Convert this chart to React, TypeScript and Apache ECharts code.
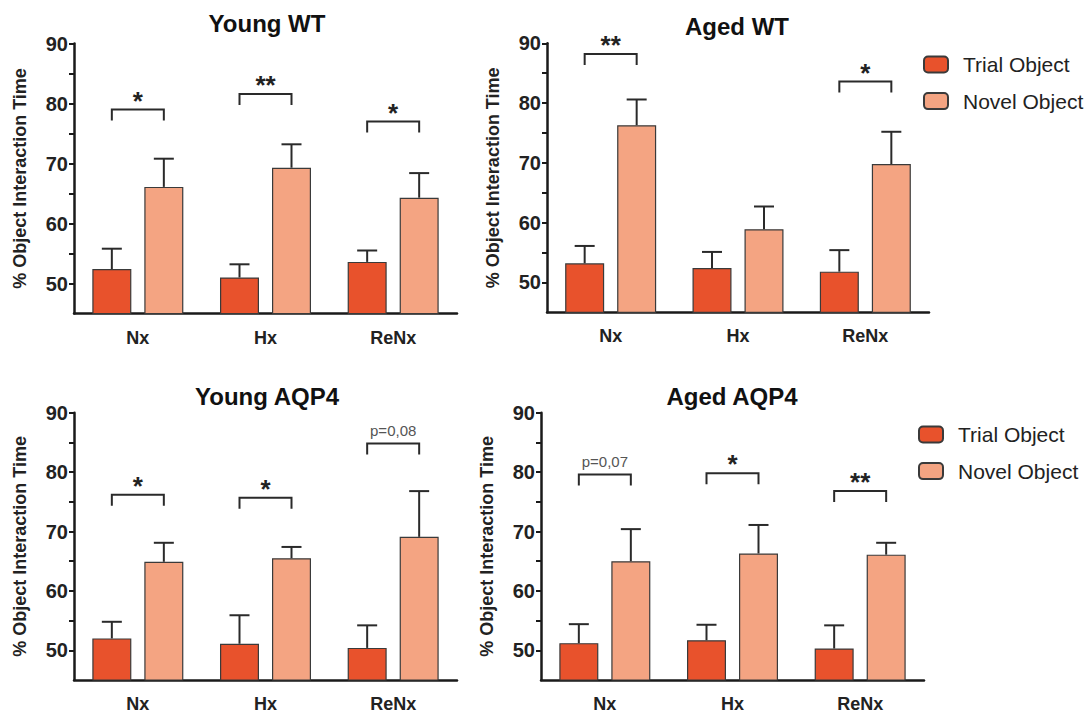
import React, { useEffect, useRef } from 'react';
import * as echarts from 'echarts';

// Conditions on the x axis of every panel
const categories = ['Nx', 'Hx', 'ReNx'];
const panelTitles = ['Young WT', 'Aged WT', 'Young AQP4', 'Aged AQP4'];
const yTickValues = [50, 55, 60, 65, 70, 75, 80, 85, 90];
const yLabelValues = [50, 60, 70, 80, 90];

// Mean % interaction time and SEM per condition
const trialYoungWT = [52.4, 51.0, 53.6];
const trialSemYoungWT = [3.4, 2.2, 1.9];
const novelYoungWT = [66.1, 69.3, 64.3];
const novelSemYoungWT = [4.7, 3.9, 4.1];

const trialAgedWT = [53.2, 52.4, 51.8];
const trialSemAgedWT = [2.9, 2.7, 3.6];
const novelAgedWT = [76.3, 58.9, 69.8];
const novelSemAgedWT = [4.3, 3.8, 5.4];

const trialYoungAQP4 = [52.0, 51.1, 50.4];
const trialSemYoungAQP4 = [2.8, 4.8, 3.8];
const novelYoungAQP4 = [64.9, 65.5, 69.1];
const novelSemYoungAQP4 = [3.2, 1.9, 7.7];

const trialAgedAQP4 = [51.2, 51.7, 50.3];
const trialSemAgedAQP4 = [3.2, 2.6, 3.9];
const novelAgedAQP4 = [65.0, 66.3, 66.1];
const novelSemAgedAQP4 = [5.4, 4.8, 2.0];

// Significance brackets: [category index, bracket height, label]
const sigYoungWT: [number, number, string][] = [[0, 79.0, '*'], [1, 81.6, '**'], [2, 77.0, '*']];
const sigAgedWT: [number, number, string][] = [[0, 88.2, '**'], [2, 83.6, '*']];
const sigYoungAQP4: [number, number, string][] = [[0, 76.2, '*'], [1, 75.7, '*'], [2, 84.8, 'p=0,08']];
const sigAgedAQP4: [number, number, string][] = [[0, 79.6, 'p=0,07'], [1, 79.8, '*'], [2, 76.8, '**']];

const panels = [
  { trial: trialYoungWT, trialSem: trialSemYoungWT, novel: novelYoungWT, novelSem: novelSemYoungWT, sig: sigYoungWT },
  { trial: trialAgedWT, trialSem: trialSemAgedWT, novel: novelAgedWT, novelSem: novelSemAgedWT, sig: sigAgedWT },
  { trial: trialYoungAQP4, trialSem: trialSemYoungAQP4, novel: novelYoungAQP4, novelSem: novelSemYoungAQP4, sig: sigYoungAQP4 },
  { trial: trialAgedAQP4, trialSem: trialSemAgedAQP4, novel: novelAgedAQP4, novelSem: novelSemAgedAQP4, sig: sigAgedAQP4 },
];

// Layout
const grids = [
  { left: 74, top: 43.5, width: 383, height: 270 },
  { left: 547, top: 43.3, width: 382, height: 269 },
  { left: 74, top: 412.7, width: 383, height: 270 },
  { left: 541, top: 412.7, width: 383, height: 270 },
];
const titlePos = [
  { x: 267, y: 11 },
  { x: 737, y: 14 },
  { x: 267, y: 384 },
  { x: 732, y: 384 },
];
const legendPos = [
  { left: 918, top: 49 },
  { left: 913, top: 419 },
];

const FONT = "'Liberation Sans', Arial, Helvetica, sans-serif";
const TRIAL_COLOR = '#E8522C';
const NOVEL_COLOR = '#F4A482';
const INK = '#1a1a1a';
const BAR_W = 39;
const BAR_GAP = 13;
const OFFSET = (BAR_W + BAR_GAP) / 2;
const CAP = 10;
const LEG = 11;

const errorRender = (offset: number) => (params: any, api: any) => {
  const cat = api.value(0);
  const base = api.coord([cat, api.value(1)]);
  const top = api.coord([cat, api.value(2)]);
  const x = base[0] + offset;
  const style = { stroke: '#2a2a2a', lineWidth: 2 };
  return {
    type: 'group',
    children: [
      { type: 'line', shape: { x1: x, y1: base[1], x2: x, y2: top[1] }, style },
      { type: 'line', shape: { x1: x - CAP, y1: top[1], x2: x + CAP, y2: top[1] }, style },
    ],
  };
};

const bracketRender = (labels: string[]) => (params: any, api: any) => {
  const c = api.coord([api.value(0), api.value(1)]);
  const xl = c[0] - OFFSET;
  const xr = c[0] + OFFSET;
  const y = c[1];
  const label = labels[params.dataIndex];
  const star = label.startsWith('*');
  return {
    type: 'group',
    children: [
      {
        type: 'polyline',
        shape: { points: [[xl, y + LEG], [xl, y], [xr, y], [xr, y + LEG]] },
        style: { stroke: '#2a2a2a', lineWidth: 2, fill: 'none' },
      },
      {
        type: 'text',
        x: c[0],
        y: star ? y - 9 : y - 13,
        style: {
          text: label,
          align: 'center',
          verticalAlign: 'middle',
          fontFamily: FONT,
          fontSize: star ? 26 : 15,
          fontWeight: star ? 'bold' : 'normal',
          fill: star ? '#222' : '#555',
        },
      },
    ],
  };
};

function buildOption() {
  const series: any[] = [];
  panels.forEach((p, i) => {
    series.push({
      name: 'Trial Object',
      type: 'bar',
      xAxisIndex: i,
      yAxisIndex: i,
      barWidth: BAR_W,
      barGap: `${(BAR_GAP / BAR_W) * 100}%`,
      itemStyle: { color: TRIAL_COLOR, borderColor: '#3a3a3a', borderWidth: 1.2 },
      data: p.trial,
    });
    series.push({
      name: 'Novel Object',
      type: 'bar',
      xAxisIndex: i,
      yAxisIndex: i,
      barWidth: BAR_W,
      barGap: `${(BAR_GAP / BAR_W) * 100}%`,
      itemStyle: { color: NOVEL_COLOR, borderColor: '#3a3a3a', borderWidth: 1.2 },
      data: p.novel,
    });
    series.push({
      type: 'custom',
      xAxisIndex: i,
      yAxisIndex: i,
      renderItem: errorRender(-OFFSET),
      encode: { x: 0, y: [1, 2] },
      data: p.trial.map((m, k) => [k, m, m + p.trialSem[k]]),
      z: 3,
    });
    series.push({
      type: 'custom',
      xAxisIndex: i,
      yAxisIndex: i,
      renderItem: errorRender(OFFSET),
      encode: { x: 0, y: [1, 2] },
      data: p.novel.map((m, k) => [k, m, m + p.novelSem[k]]),
      z: 3,
    });
    series.push({
      type: 'custom',
      xAxisIndex: i,
      yAxisIndex: i,
      renderItem: bracketRender(p.sig.map((s) => s[2])),
      encode: { x: 0, y: 1 },
      data: p.sig.map((s) => [s[0], s[1]]),
      clip: false,
      z: 3,
    });
  });

  return {
    animation: false,
    backgroundColor: '#ffffff',
    title: panelTitles.map((t, i) => ({
      text: t,
      left: titlePos[i].x,
      top: titlePos[i].y,
      textAlign: 'center',
      padding: 0,
      textStyle: { fontFamily: FONT, fontSize: 24, fontWeight: 'bold', color: '#111' },
    })),
    legend: legendPos.map((pos) => ({
      data: ['Trial Object', 'Novel Object'],
      orient: 'vertical',
      left: pos.left,
      top: pos.top,
      itemWidth: 24,
      itemHeight: 16,
      itemGap: 15.6,
      selectedMode: false,
      textStyle: { fontFamily: FONT, fontSize: 21, color: '#222', lineHeight: 21, padding: [0, 0, 0, 10] },
    })),
    grid: grids,
    xAxis: grids.map((_, i) => ({
      type: 'category',
      gridIndex: i,
      data: categories,
      axisLine: { show: true, lineStyle: { color: INK, width: 2.5 } },
      axisTick: { show: false },
      axisLabel: { fontFamily: FONT, fontSize: 18, fontWeight: 'bold', color: '#222', margin: 15 },
      splitLine: { show: false },
    })),
    yAxis: grids.map((_, i) => ({
      type: 'value',
      gridIndex: i,
      min: 45,
      max: 90,
      name: '% Object Interaction Time',
      nameLocation: 'middle',
      nameGap: 45,
      nameTextStyle: { fontFamily: FONT, fontSize: 18, fontWeight: 'bold', color: '#222' },
      axisLine: { show: true, lineStyle: { color: INK, width: 2.5 } },
      axisTick: { show: true, length: 5, lineStyle: { color: INK, width: 2 }, customValues: yTickValues },
      axisLabel: {
        customValues: yLabelValues,
        fontFamily: FONT,
        fontSize: 20,
        fontWeight: 'bold',
        color: '#222',
        margin: 6,
      },
      splitLine: { show: false },
    })),
    series,
  };
}

export default function App() {
  const ref = useRef<HTMLDivElement>(null);
  useEffect(() => {
    if (!ref.current) return;
    const chart = echarts.init(ref.current, null, { renderer: 'svg' });
    chart.setOption(buildOption() as any);
    return () => chart.dispose();
  }, []);
  return (
    <div
      ref={ref}
      style={{ position: 'fixed', left: 0, top: 0, width: 1087, height: 713, background: '#fff' }}
    />
  );
}
